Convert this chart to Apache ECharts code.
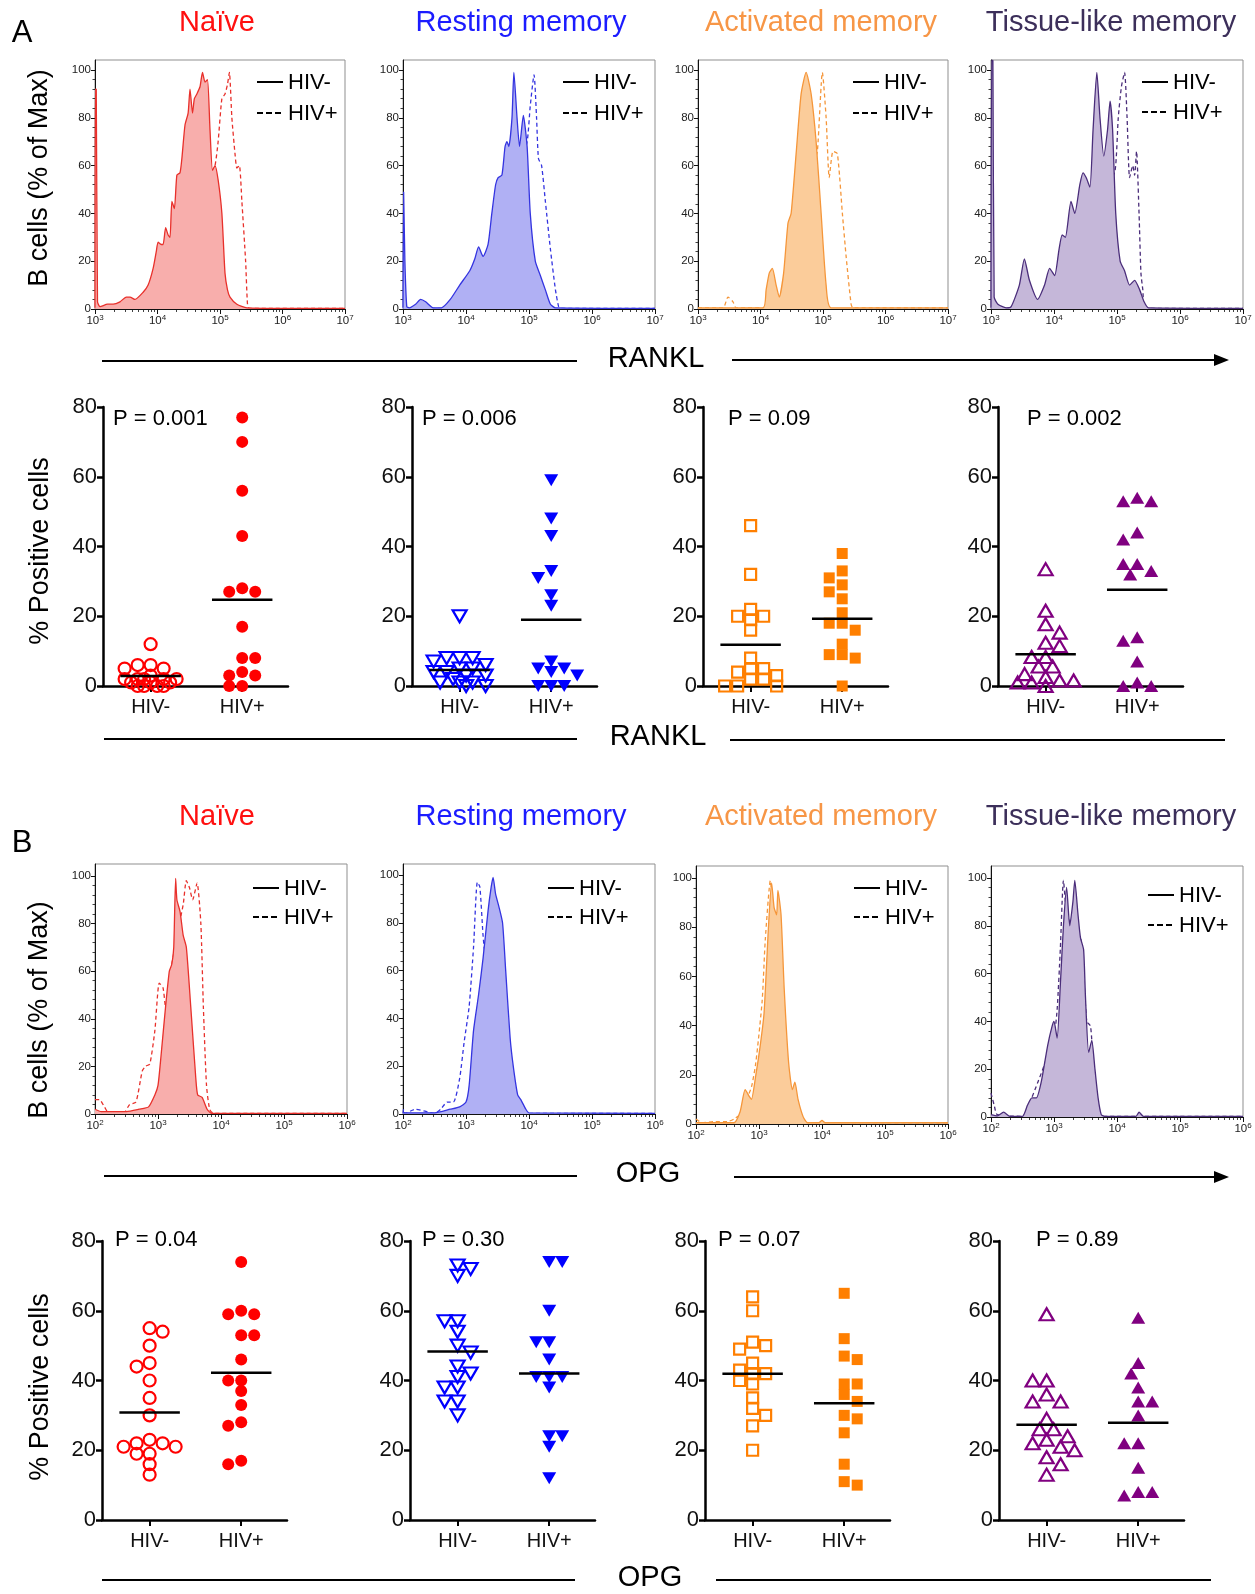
<!DOCTYPE html>
<html><head><meta charset="utf-8">
<script src="https://cdn.jsdelivr.net/npm/echarts@6/dist/echarts.min.js"></script>
<style>html,body{margin:0;padding:0;background:#fff}#c{width:1255px;height:1594px}</style>
</head><body><div id="c"></div>
<script>
const FONT = '"Liberation Sans", Arial, Helvetica, sans-serif';
const subsets = ['Naïve', 'Resting memory', 'Activated memory', 'Tissue-like memory'];
const groups = ['HIV-', 'HIV+'];
const markers = ['RANKL', 'OPG'];

// ---- Histogram curves: [log10(intensity), % of max] ----
const ranklNaiveNeg = [[3.0,0.5],[3.005,92],[3.02,92],[3.04,3],[3.08,1],[3.2,2],[3.29,2],[3.4,3],[3.5,5],[3.56,5],[3.64,4],[3.77,7],[3.85,10],[3.93,17],[3.98,24],[4.01,28],[4.06,27],[4.09,27],[4.13,34],[4.17,31],[4.2,30],[4.23,45],[4.27,42],[4.31,56],[4.36,57],[4.39,63],[4.44,77],[4.49,82],[4.52,92],[4.56,82],[4.59,88],[4.63,90],[4.68,93],[4.72,99],[4.76,95],[4.8,96],[4.84,75],[4.88,58],[4.92,60],[4.97,54],[5.03,40],[5.08,15],[5.12,8],[5.16,5],[5.27,2],[5.43,0.5],[6.0,0.3],[7.0,0.3]];
const ranklNaivePos = [[3.0,0.3],[3.9,0.5],[4.1,3],[4.3,12],[4.5,30],[4.7,48],[4.85,56],[4.92,60],[4.97,70],[5.03,88],[5.08,90],[5.12,94],[5.15,99],[5.19,80],[5.24,65],[5.27,59],[5.31,60],[5.35,45],[5.41,20],[5.44,2],[5.47,0.3],[7.0,0.3]];
const ranklRestNeg = [[3.0,0.5],[3.01,49],[3.03,20],[3.06,1],[3.1,0.5],[3.2,2],[3.28,4],[3.36,3],[3.48,0.5],[3.61,0.5],[3.75,4],[3.9,10],[4.06,16],[4.14,21],[4.2,26],[4.27,22],[4.35,27],[4.41,40],[4.47,52],[4.51,55],[4.57,56],[4.62,68],[4.65,70],[4.68,68],[4.73,80],[4.76,99],[4.81,80],[4.85,68],[4.91,81],[4.97,68],[5.02,40],[5.1,20],[5.18,14],[5.26,8],[5.34,2],[5.42,0.5],[7.0,0.3]];
const ranklRestPos = [[3.0,0.3],[3.9,0.3],[4.1,3],[4.3,10],[4.5,25],[4.7,45],[4.85,60],[4.97,70],[5.02,85],[5.08,98],[5.12,80],[5.15,63],[5.2,60],[5.26,45],[5.34,25],[5.42,8],[5.47,1],[5.5,0.3],[7.0,0.3]];
const ranklActNeg = [[3.0,0.5],[4.04,0.5],[4.09,8],[4.14,15],[4.19,17],[4.25,10],[4.3,5],[4.37,15],[4.44,36],[4.49,40],[4.57,65],[4.65,90],[4.73,99],[4.81,90],[4.89,70],[4.97,40],[5.05,10],[5.13,0.5],[7.0,0.5]];
const ranklActPos = [[3.0,0.5],[3.4,0.5],[3.48,5],[3.56,3],[3.61,0.5],[4.3,0.5],[4.5,10],[4.7,35],[4.85,60],[4.91,66],[4.99,99],[5.05,80],[5.1,55],[5.16,66],[5.23,65],[5.31,40],[5.37,22],[5.45,2],[5.48,0.5],[7.0,0.5]];
const ranklTisNeg = [[3.0,0.5],[3.01,104],[3.03,104],[3.05,5],[3.11,2],[3.24,0.5],[3.32,1],[3.45,10],[3.53,21],[3.61,12],[3.74,4],[3.85,10],[3.93,17],[4.01,14],[4.08,25],[4.13,31],[4.18,30],[4.27,45],[4.33,40],[4.41,52],[4.46,57],[4.51,55],[4.57,51],[4.62,75],[4.68,99],[4.73,80],[4.79,64],[4.85,75],[4.89,87],[4.93,75],[4.98,40],[5.05,20],[5.12,16],[5.2,10],[5.28,12],[5.36,8],[5.43,3],[5.5,0.5],[7.0,0.3]];
const ranklTisPos = [[3.0,0.3],[4.0,0.3],[4.3,8],[4.6,30],[4.85,50],[4.97,58],[5.02,80],[5.07,93],[5.12,99],[5.16,80],[5.2,55],[5.25,60],[5.28,56],[5.31,66],[5.35,40],[5.38,15],[5.41,8],[5.45,0.3],[7.0,0.3]];

const opgNaiveNeg = [[2.0,2],[2.1,1],[2.5,1],[2.7,2],[2.85,3],[2.95,8],[3.0,12],[3.05,25],[3.12,45],[3.18,60],[3.22,63],[3.25,70],[3.28,99],[3.3,90],[3.35,85],[3.4,75],[3.45,70],[3.52,45],[3.6,15],[3.63,8],[3.7,7],[3.78,2],[3.85,0.3],[6.0,0.3]];
const opgNaivePos = [[2.0,6],[2.07,6],[2.15,3],[2.2,1],[2.35,0.5],[2.45,0.2],[2.55,4],[2.65,5],[2.75,18],[2.8,20],[2.87,21],[2.95,35],[3.02,55],[3.08,53],[3.12,45],[3.2,60],[3.3,75],[3.4,88],[3.45,98],[3.5,95],[3.55,90],[3.62,97],[3.68,80],[3.72,45],[3.77,12],[3.82,2],[3.88,0.3],[6.0,0.3]];
const opgRestNeg = [[2.0,0.5],[2.5,0.5],[2.75,2],[2.9,3],[3.0,5],[3.05,12],[3.12,35],[3.2,50],[3.27,65],[3.35,85],[3.4,95],[3.43,99],[3.47,92],[3.52,87],[3.58,80],[3.63,60],[3.7,32],[3.75,20],[3.82,8],[3.87,6],[3.95,2],[4.0,0.5],[6.0,0.3]];
const opgRestPos = [[2.0,0.3],[2.01,2],[2.03,0.3],[2.2,2],[2.5,0.3],[2.6,2],[2.7,5],[2.8,5],[2.9,15],[2.97,30],[3.05,45],[3.12,70],[3.18,97],[3.22,95],[3.27,75],[3.32,60],[3.38,35],[3.5,25],[3.58,10],[3.7,5],[3.8,3],[3.88,2],[3.95,0.3],[6.0,0.3]];
const opgActNeg = [[2.0,0.5],[2.6,0.5],[2.7,5],[2.78,14],[2.85,11],[2.88,10],[2.95,20],[3.02,32],[3.08,45],[3.15,80],[3.2,98],[3.24,88],[3.28,85],[3.3,95],[3.35,85],[3.4,55],[3.47,25],[3.53,14],[3.57,17],[3.62,10],[3.7,3],[3.77,0.5],[3.95,0.5],[4.0,1.5],[4.05,0.5],[6.0,0.5]];
const opgActPos = [[2.0,2],[2.1,0.5],[2.3,1],[2.5,1],[2.6,2],[2.7,4],[2.8,10],[2.88,15],[2.95,25],[3.05,50],[3.1,75],[3.18,99],[3.25,75],[3.3,55],[3.35,40],[3.42,28],[3.48,15],[3.55,5],[3.62,2],[3.7,0.5],[6.0,0.5]];
const opgTisNeg = [[2.0,1],[2.1,0.5],[2.2,2],[2.3,0.3],[2.5,0.3],[2.58,5],[2.65,8],[2.72,8],[2.8,15],[2.9,30],[2.97,38],[3.0,40],[3.05,33],[3.1,55],[3.15,80],[3.2,96],[3.25,80],[3.3,90],[3.33,99],[3.38,85],[3.42,75],[3.47,70],[3.5,50],[3.55,27],[3.6,32],[3.65,20],[3.7,8],[3.75,1],[3.8,0.3],[4.3,0.3],[4.35,2],[4.42,0.3],[6.0,0.3]];
const opgTisPos = [[2.0,10],[2.05,5],[2.1,1],[2.5,0.3],[2.6,5],[2.75,15],[2.85,22],[2.95,30],[3.0,33],[3.05,45],[3.1,70],[3.15,99],[3.2,85],[3.27,80],[3.33,70],[3.38,65],[3.42,75],[3.47,60],[3.52,40],[3.58,38],[3.63,20],[3.7,5],[3.75,0.3],[6.0,0.3]];

// ---- % positive cells per donor ----
const ranklNaiveNegPct = [12,6,5,5,6,3,2,2,2,2,1,1,0,0,0,0,1,2];
const ranklNaivePosPct = [77,70,56,43,27,27,28,17,8,8,4,3,3,0,0];
const ranklRestNegPct = [20,8,8,7,8,6,5,5,4,4,3,3,2,1,1,0,0,1];
const ranklRestPosPct = [59,48,43,33,31,26,23,7,4,5,5,3,0,0,0];
const ranklActNegPct = [46,32,22,20,20,19,16,8,5,5,4,3,2,2,0,0,0];
const ranklActPosPct = [38,33,31,29,27,25,21,18,18,16,12,9,9,8,0];
const ranklTisNegPct = [33.5,21.6,17.7,15.3,12.4,11.5,8.3,8.3,5.6,5.6,3.4,2.6,1.6,1.6,1,1,0];
const ranklTisPosPct = [53,53,54,42,44,35,33,32,35,13,14,7,1,0,0];
const opgNaiveNegPct = [55,54,50,45,44,40,35,30,23,22,22,21,21,19,19,16,13];
const opgNaivePosPct = [74,60,59,59,53,53,46,40,40,33,28,27,37,16,17];
const opgRestNegPct = [73,72,70,57,57,54,48,50,44,41,42,38,38,34,34,30];
const opgRestPosPct = [74,74,60,51,51,46,41,41,41,38,24,24,21,12];
const opgActNegPct = [64,60,51,50,49,45,43,42,42,40,39,35,32,30,27,20];
const opgActPosPct = [65,52,47,46,39,39,36,34,30,29,25,16,11,10];
const opgTisNegPct = [59,40,40,36,34,34,29,26,26,24,23,22,21,20,18,16,13];
const opgTisPosPct = [58,45,42,38,34,34,30,22,22,15,8,8,7];

// mean lines as drawn [HIV-, HIV+]
const ranklMeans = [[2.9,24.7],[4.6,19.0],[11.8,19.3],[9.1,27.6]];
const opgMeans = [[30.8,42.2],[48.3,42.0],[41.9,33.5],[27.3,27.9]];
const ranklP = ['P = 0.001','P = 0.006','P = 0.09','P = 0.002'];
const opgP = ['P = 0.04','P = 0.30','P = 0.07','P = 0.89'];
const histTicks = [0,20,40,60,80,100];

// ---- styling ----
const titleColors = ['#ff1010','#1c1cff','#f79646','#3c2f5a'];
const lineColors = ['#e8302b','#3434e0','#f5963a','#4a2d7a'];
const fillColors = ['#f8aeac','#b0b0f4','#fbcc9a','#c5b7d9'];
const dotColors = ['#ff0000','#0000ff','#ff7f00','#800080'];

const option = {animation:false, backgroundColor:'#ffffff', grid:[], xAxis:[], yAxis:[], series:[], graphic:[]};

function addHist(box, xmin, xmax, ymax, neg, pos, ci) {
  const gi = option.grid.length;
  option.grid.push({left:box.left, top:box.top, width:box.width, height:box.height, show:true, borderColor:'#8f8f8f', borderWidth:1});
  const xi = option.xAxis.length;
  const minors = [];
  for (let d = xmin; d < xmax; d++) for (let k = 2; k <= 9; k++) minors.push(d + Math.log10(k));
  option.xAxis.push({gridIndex:gi, type:'value', min:xmin, max:xmax, interval:1, position:'bottom',
    axisLine:{show:true,onZero:false,lineStyle:{color:'#111',width:1}},
    axisTick:{show:true,length:5,lineStyle:{color:'#111',width:1}},
    axisLabel:{margin:5, color:'#222', formatter: v => '{b|10}{s|' + v + '}',
      rich:{b:{fontSize:11.5,fontFamily:FONT,color:'#222',verticalAlign:'bottom'}, s:{fontSize:8,fontFamily:FONT,color:'#222',verticalAlign:'bottom',padding:[0,0,5,0]}}},
    splitLine:{show:false}});
  option.xAxis.push({gridIndex:gi, type:'value', min:xmin, max:xmax, position:'bottom',
    axisLine:{show:false,onZero:false}, axisTick:{show:true,length:3,customValues:minors,lineStyle:{color:'#111',width:0.8}},
    axisLabel:{show:false}, splitLine:{show:false}});
  const yi = option.yAxis.length;
  const yminors = [];
  for (let v = 4; v < 100; v += 4) if (v % 20 !== 0) yminors.push(v);
  option.yAxis.push({gridIndex:gi, type:'value', min:0, max:ymax, interval:20, position:'left',
    axisLine:{show:true,onZero:false,lineStyle:{color:'#111',width:1}},
    axisTick:{show:true,length:4,customValues:histTicks,lineStyle:{color:'#111',width:1}},
    axisLabel:{customValues:histTicks,fontSize:11.5,fontFamily:FONT,color:'#222',margin:4},
    splitLine:{show:false}});
  option.yAxis.push({gridIndex:gi, type:'value', min:0, max:ymax, position:'left',
    axisLine:{show:false,onZero:false}, axisTick:{show:true,length:2.5,customValues:yminors,lineStyle:{color:'#111',width:0.8}},
    axisLabel:{show:false}, splitLine:{show:false}});
  option.series.push({type:'line', xAxisIndex:xi, yAxisIndex:yi, data:pos, showSymbol:false, symbol:'none', smooth:0.2,
    lineStyle:{color:lineColors[ci], width:1.3, type:[4,3]}, z:2, silent:true});
  option.series.push({type:'line', xAxisIndex:xi, yAxisIndex:yi, data:neg, showSymbol:false, symbol:'none', smooth:0.2,
    lineStyle:{color:lineColors[ci], width:1.3}, areaStyle:{color:fillColors[ci], opacity:1}, z:3, silent:true});
}

const SX_MIN = 0.48, SX_MAX = 2.5, SW = 185, SH = 279;
// beeswarm placement (pixel collision test, limited spread, overlap allowed when crowded)
function swarm(values, center, D, maxOff) {
  const pxX = SW / (SX_MAX - SX_MIN), pxY = SH / 80;
  const thr = D * 0.8;
  const order = values.map((v, i) => i).sort((a, b) => values[b] - values[a]);
  const placed = [], out = new Array(values.length);
  order.forEach((i, n) => {
    const y = values[i] * pxY;
    let best = null, bestScore = -1;
    const cands = [0];
    for (let s = D / 2; s <= maxOff + 0.01; s += D / 2) { if (n % 2) cands.push(s, -s); else cands.push(-s, s); }
    for (const c of cands) {
      const md = placed.length ? Math.min(...placed.map(p => Math.hypot(p.x - c, p.y - y))) : 1e9;
      if (md >= thr) { best = c; break; }
      if (md > bestScore + 0.5) { bestScore = md; best = c; }
    }
    placed.push({x:best, y});
    out[i] = [center + best / pxX, values[i]];
  });
  return out;
}

const symDefs = [
  {symbol:'circle', size:12, rot:0, D:13},
  {symbol:'triangle', size:[14,12], rot:180, D:13},
  {symbol:'rect', size:11, rot:0, D:13},
  {symbol:'triangle', size:[14,12], rot:0, D:14}
];

function addScatter(left, top, negV, posV, means, ci) {
  const gi = option.grid.length;
  option.grid.push({left:left, top:top, width:SW, height:SH, show:false});
  const xi = option.xAxis.length;
  option.xAxis.push({gridIndex:gi, type:'value', min:SX_MIN, max:SX_MAX,
    axisLine:{show:true,onZero:false,lineStyle:{color:'#000',width:2.5}},
    axisTick:{show:true,customValues:[1,2],length:6,lineStyle:{color:'#000',width:2}},
    axisLabel:{customValues:[1,2],formatter:v => groups[Math.round(v) - 1],fontSize:20,fontFamily:FONT,color:'#111',margin:11},
    splitLine:{show:false}});
  const yi = option.yAxis.length;
  option.yAxis.push({gridIndex:gi, type:'value', min:0, max:80, interval:20,
    axisLine:{show:true,onZero:false,lineStyle:{color:'#000',width:2.5}},
    axisTick:{show:true,length:6,lineStyle:{color:'#000',width:2.5}},
    axisLabel:{fontSize:22,fontFamily:FONT,color:'#111',margin:6},
    splitLine:{show:false}});
  const s = symDefs[ci];
  option.series.push({type:'scatter', xAxisIndex:xi, yAxisIndex:yi, data:swarm(negV, 1, s.D, 30), clip:false,
    symbol:s.symbol, symbolSize:s.size, symbolRotate:s.rot,
    itemStyle:{color:'rgba(255,255,255,0)', borderColor:dotColors[ci], borderWidth:2.2, opacity:1}, z:3, silent:true});
  option.series.push({type:'scatter', xAxisIndex:xi, yAxisIndex:yi, data:swarm(posV, 2, s.D, 30), clip:false,
    symbol:s.symbol, symbolSize:s.size, symbolRotate:s.rot,
    itemStyle:{color:dotColors[ci], opacity:1}, z:3, silent:true});
  [0, 1].forEach(g => {
    option.series.push({type:'line', xAxisIndex:xi, yAxisIndex:yi, data:[[g + 1 - 0.33, means[g]], [g + 1 + 0.33, means[g]]],
      showSymbol:false, symbol:'none', lineStyle:{color:'#000', width:2.5}, z:5, silent:true});
  });
}

// ---- layout ----
const histA = [{left:95,top:60,width:250,height:249},{left:403,top:60,width:252,height:249},{left:698,top:60,width:250,height:249},{left:991,top:60,width:252,height:249}];
const histB = [{left:95,top:864,width:252,height:250},{left:403,top:864,width:252,height:250},{left:696,top:866,width:252,height:258},{left:991,top:866,width:252,height:251}];
const histBMax = [105, 104.6, 104.9, 105];
const scatALeft = [103, 412, 703, 998], scatATop = 407;
const scatBLeft = [102, 410, 705, 999], scatBTop = 1241;

const ranklHist = [[ranklNaiveNeg, ranklNaivePos],[ranklRestNeg, ranklRestPos],[ranklActNeg, ranklActPos],[ranklTisNeg, ranklTisPos]];
const opgHist = [[opgNaiveNeg, opgNaivePos],[opgRestNeg, opgRestPos],[opgActNeg, opgActPos],[opgTisNeg, opgTisPos]];
const ranklPct = [[ranklNaiveNegPct, ranklNaivePosPct],[ranklRestNegPct, ranklRestPosPct],[ranklActNegPct, ranklActPosPct],[ranklTisNegPct, ranklTisPosPct]];
const opgPct = [[opgNaiveNegPct, opgNaivePosPct],[opgRestNegPct, opgRestPosPct],[opgActNegPct, opgActPosPct],[opgTisNegPct, opgTisPosPct]];

for (let i = 0; i < 4; i++) {
  addHist(histA[i], 3, 7, 104.2, ranklHist[i][0], ranklHist[i][1], i);
  addHist(histB[i], 2, 6, histBMax[i], opgHist[i][0], opgHist[i][1], i);
  addScatter(scatALeft[i], scatATop, ranklPct[i][0], ranklPct[i][1], ranklMeans[i], i);
  addScatter(scatBLeft[i], scatBTop, opgPct[i][0], opgPct[i][1], opgMeans[i], i);
}

// ---- annotations ----
const G = option.graphic;
function txt(x, y, text, size, color, align, rot) {
  G.push({type:'text', x:x, y:y, rotation:rot || 0, z:100, silent:true,
    style:{text:text, fill:color, font:size + 'px ' + FONT, textAlign:align || 'center', textVerticalAlign:'middle', align:align || 'center', verticalAlign:'middle'}});
}
function line(x1, y1, x2, y2, w, dash) {
  G.push({type:'line', z:100, silent:true, shape:{x1, y1, x2, y2}, style:{stroke:'#000', lineWidth:w, lineDash:dash || null}});
}
function arrowHead(x, y) {
  G.push({type:'polygon', z:100, silent:true, shape:{points:[[x - 15, y - 6], [x, y], [x - 15, y + 6]]}, style:{fill:'#000'}});
}

txt(22, 33, 'A', 31, '#000');
txt(22, 843, 'B', 31, '#000');
const titleX = [217, 521, 821, 1111];
for (let i = 0; i < 4; i++) {
  txt(titleX[i], 23, subsets[i], 29, titleColors[i]);
  txt(titleX[i], 817, subsets[i], 29, titleColors[i]);
}
txt(40, 178, 'B cells (% of Max)', 27, '#000', 'center', Math.PI / 2);
txt(40, 1010, 'B cells (% of Max)', 27, '#000', 'center', Math.PI / 2);
txt(41, 551, '% Positive cells', 27, '#000', 'center', Math.PI / 2);
txt(41, 1387, '% Positive cells', 27, '#000', 'center', Math.PI / 2);

// marker rows
line(102, 361, 577, 361, 2); txt(656, 359, markers[0], 29, '#000'); line(732, 360, 1216, 360, 2); arrowHead(1229, 360);
line(104, 739, 577, 739, 2); txt(658, 737, markers[0], 29, '#000'); line(730, 740, 1225, 740, 2);
line(104, 1176, 577, 1176, 2); txt(648, 1174, markers[1], 29, '#000'); line(734, 1177, 1216, 1177, 2); arrowHead(1229, 1177);
line(102, 1580, 575, 1580, 2); txt(650, 1578, markers[1], 29, '#000'); line(716, 1580, 1211, 1580, 2);

// histogram legends: [lineStartX, y1, y2]
const legA = [[257, 82, 113], [563, 82, 113], [853, 82, 113], [1142, 82, 112]];
const legB = [[253, 888, 917], [548, 888, 917], [854, 888, 917], [1148, 895, 925]];
[legA, legB].forEach(L => L.forEach(([lx, y1, y2]) => {
  line(lx, y1, lx + 26, y1, 2);
  txt(lx + 31, y1 + 1, groups[0], 22, '#000', 'left');
  line(lx, y2, lx + 26, y2, 2, [6, 3]);
  txt(lx + 31, y2 + 1, groups[1], 22, '#000', 'left');
}));

// P values
const pAx = [113, 422, 728, 1027], pBx = [115, 422, 718, 1036];
for (let i = 0; i < 4; i++) {
  txt(pAx[i], 419, ranklP[i], 22, '#000', 'left');
  txt(pBx[i], 1240, opgP[i], 22, '#000', 'left');
}

const chart = echarts.init(document.getElementById('c'), null, {renderer:'canvas'});
chart.setOption(option);
</script>
</body></html>
